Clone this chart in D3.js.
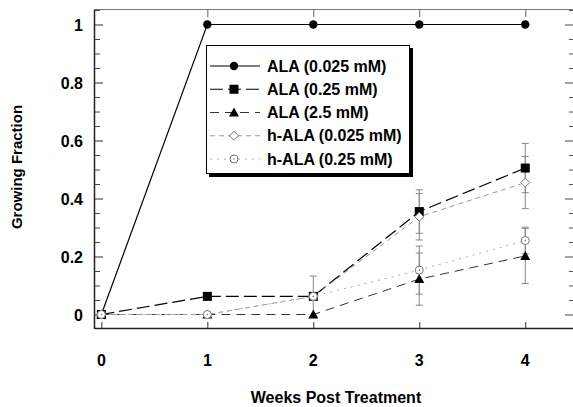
<!DOCTYPE html>
<html>
<head>
<meta charset="utf-8">
<script src="https://cdn.jsdelivr.net/npm/d3@7"></script>
<style>
  body { margin: 0; background: #fff; }
  svg { display: block; font-family: "Liberation Sans", Arial, sans-serif; font-weight: bold; }
</style>
</head>
<body>
<svg id="chart" width="573" height="407"></svg>
<script>
// data
const weeks = [0, 1, 2, 3, 4]
const seriesNames = ['ALA (0.025 mM)', 'ALA (0.25 mM)', 'ALA (2.5 mM)', 'h-ALA (0.025 mM)', 'h-ALA (0.25 mM)']
const ala025 = [0, 1, 1, 1, 1]
const ala25 = [0, 0.0625, 0.0625, 0.355, 0.505]
const ala250 = [0, 0, 0, 0.122, 0.202]
const hala025 = [0, 0, 0.0625, 0.337, 0.455]
const hala25 = [0, 0, 0.0625, 0.153, 0.255]
const ala025Err = [0, 0, 0, 0, 0]
const ala25Err = [0, 0, 0.07, 0.075, 0.085]
const ala250Err = [0, 0, 0, 0.09, 0.095]
const hala025Err = [0, 0, 0, 0.08, 0.09]
const hala25Err = [0, 0, 0, 0.083, 0.046]
const yTicks = [0, 0.2, 0.4, 0.6, 0.8, 1]

const svg = d3.select('#chart')

const x = d3.scaleLinear().domain([-0.06, 4.46]).range([95, 574])
const y = d3.scaleLinear().domain([-0.05, 1.05]).range([329, 10])

// frame
svg.append('line').attr('x1', 95).attr('x2', 574).attr('y1', 9.5).attr('y2', 9.5)
    .attr('stroke', '#777').attr('stroke-width', 1)
svg.append('line').attr('x1', 95).attr('x2', 574).attr('y1', 328.5).attr('y2', 328.5)
    .attr('stroke', '#222').attr('stroke-width', 1.5)
svg.append('line').attr('x1', 94.5).attr('x2', 94.5).attr('y1', 9.5).attr('y2', 329)
    .attr('stroke', '#222').attr('stroke-width', 1.5)

const minor = d3.range(-0.05, 1.051, 0.05).filter(v => v >= -0.001 && yTicks.every(t => Math.abs(t - v) > 0.01))

// left axis ticks (inside)
const leftAxis = svg.append('g').attr('transform', 'translate(95,0)')
    .call(d3.axisRight(y).tickValues(yTicks).tickSize(8).tickFormat(''))
leftAxis.select('.domain').remove()
leftAxis.selectAll('line').attr('stroke', '#333')
svg.append('g').attr('transform', 'translate(95,0)')
    .call(d3.axisRight(y).tickValues(minor).tickSize(5).tickFormat(''))
    .call(g => g.select('.domain').remove())
    .selectAll('line').attr('stroke', '#444')

// left labels
svg.append('g').selectAll('text').data(yTicks).enter()
    .append('text')
    .attr('x', 83).attr('y', d => y(d) + 6)
    .attr('text-anchor', 'end').attr('font-size', 16)
    .text(d => d3.format('~g')(d))

// right axis ticks (inside)
svg.append('g').attr('transform', 'translate(574,0)')
    .call(d3.axisLeft(y).tickValues(yTicks).tickSize(9).tickFormat(''))
    .call(g => g.select('.domain').remove())
    .selectAll('line').attr('stroke', '#444')
svg.append('g').attr('transform', 'translate(574,0)')
    .call(d3.axisLeft(y).tickValues(minor).tickSize(5).tickFormat(''))
    .call(g => g.select('.domain').remove())
    .selectAll('line').attr('stroke', '#555')

// bottom and top ticks
svg.append('g').attr('transform', 'translate(0,328)')
    .call(d3.axisTop(x).tickValues(weeks).tickSize(6).tickFormat(''))
    .call(g => g.select('.domain').remove())
    .selectAll('line').attr('stroke', '#333')
svg.append('g').attr('transform', 'translate(0,10)')
    .call(d3.axisBottom(x).tickValues(weeks.slice(1)).tickSize(7).tickFormat(''))
    .call(g => g.select('.domain').remove())
    .selectAll('line').attr('stroke', '#666')

svg.append('g').selectAll('text').data(weeks).enter()
    .append('text')
    .attr('x', d => x(d)).attr('y', 366)
    .attr('text-anchor', 'middle').attr('font-size', 16)
    .text(d => d)

// axis titles
svg.append('text').attr('x', 336).attr('y', 403)
    .attr('text-anchor', 'middle').attr('font-size', 16)
    .text('Weeks Post Treatment')
svg.append('text')
    .attr('transform', 'translate(22,167) rotate(-90)')
    .attr('text-anchor', 'middle').attr('font-size', 15)
    .text('Growing Fraction')

const series = [
    { name: seriesNames[0], values: ala025, err: ala025Err, color: '#000', dash: null, marker: 'circle' },
    { name: seriesNames[1], values: ala25, err: ala25Err, color: '#000', dash: '13,5', marker: 'square' },
    { name: seriesNames[2], values: ala250, err: ala250Err, color: '#333', dash: '9,6', marker: 'triangle' },
    { name: seriesNames[3], values: hala025, err: hala025Err, color: '#999', dash: '5,4', marker: 'diamond' },
    { name: seriesNames[4], values: hala25, err: hala25Err, color: '#aaa', dash: '2,5', marker: 'ocircle' }
]

const line = d3.line().x((d, i) => x(weeks[i])).y(d => y(d))

// error bars
const errG = svg.append('g')
series.forEach(s => {
    s.values.forEach((v, i) => {
        if (!s.err[i]) return
        const cx = x(weeks[i])
        const lo = y(v - s.err[i]), hi = y(v + s.err[i])
        errG.append('line').attr('x1', cx).attr('x2', cx).attr('y1', lo).attr('y2', hi)
            .attr('stroke', '#888').attr('stroke-width', 1)
        ;[lo, hi].forEach(yy => errG.append('line')
            .attr('x1', cx - 3.5).attr('x2', cx + 3.5).attr('y1', yy).attr('y2', yy)
            .attr('stroke', '#888').attr('stroke-width', 1))
    })
})

// lines
series.forEach(s => {
    svg.append('path').datum(s.values)
        .attr('d', line)
        .attr('fill', 'none')
        .attr('stroke', s.color)
        .attr('stroke-width', s.color === '#000' ? 1.2 : 1)
        .attr('stroke-dasharray', s.dash)
})

function drawMarker(g, kind, cx, cy) {
    if (kind === 'circle') {
        g.append('circle').attr('cx', cx).attr('cy', cy).attr('r', 4.2).attr('fill', '#000')
    } else if (kind === 'square') {
        g.append('rect').attr('x', cx - 4.5).attr('y', cy - 4.5).attr('width', 9).attr('height', 9).attr('fill', '#000')
    } else if (kind === 'triangle') {
        g.append('path').attr('d', `M${cx},${cy - 5}L${cx + 5},${cy + 4}L${cx - 5},${cy + 4}Z`).attr('fill', '#000')
    } else if (kind === 'diamond') {
        g.append('path').attr('d', `M${cx},${cy - 4.5}L${cx + 4.5},${cy}L${cx},${cy + 4.5}L${cx - 4.5},${cy}Z`)
            .attr('fill', '#fff').attr('stroke', '#777').attr('stroke-width', 1)
    } else {
        g.append('circle').attr('cx', cx).attr('cy', cy).attr('r', 4).attr('fill', '#fff')
            .attr('stroke', '#777').attr('stroke-width', 1)
        g.append('circle').attr('cx', cx).attr('cy', cy).attr('r', 0.8).attr('fill', '#777')
    }
}

// markers
const markG = svg.append('g')
series.forEach(s => {
    s.values.forEach((v, i) => drawMarker(markG, s.marker, x(weeks[i]), y(v)))
})

// legend
const lg = svg.append('g')
lg.append('rect').attr('x', 209).attr('y', 48).attr('width', 204).attr('height', 129).attr('fill', '#000')
lg.append('rect').attr('x', 206.5).attr('y', 45.5).attr('width', 203).attr('height', 128)
    .attr('fill', '#fff').attr('stroke', '#000').attr('stroke-width', 1)

const legendY = d3.scalePoint().domain(seriesNames).range([66, 159])
series.forEach(s => {
    const ly = legendY(s.name)
    lg.append('line').attr('x1', 210).attr('x2', 260).attr('y1', ly).attr('y2', ly)
        .attr('stroke', s.color).attr('stroke-width', 1)
        .attr('stroke-dasharray', s.dash)
    drawMarker(lg, s.marker, 234, ly)
    lg.append('text').attr('x', 267).attr('y', ly + 5.5)
        .attr('font-size', 16).text(s.name)
})
</script>
</body>
</html>
